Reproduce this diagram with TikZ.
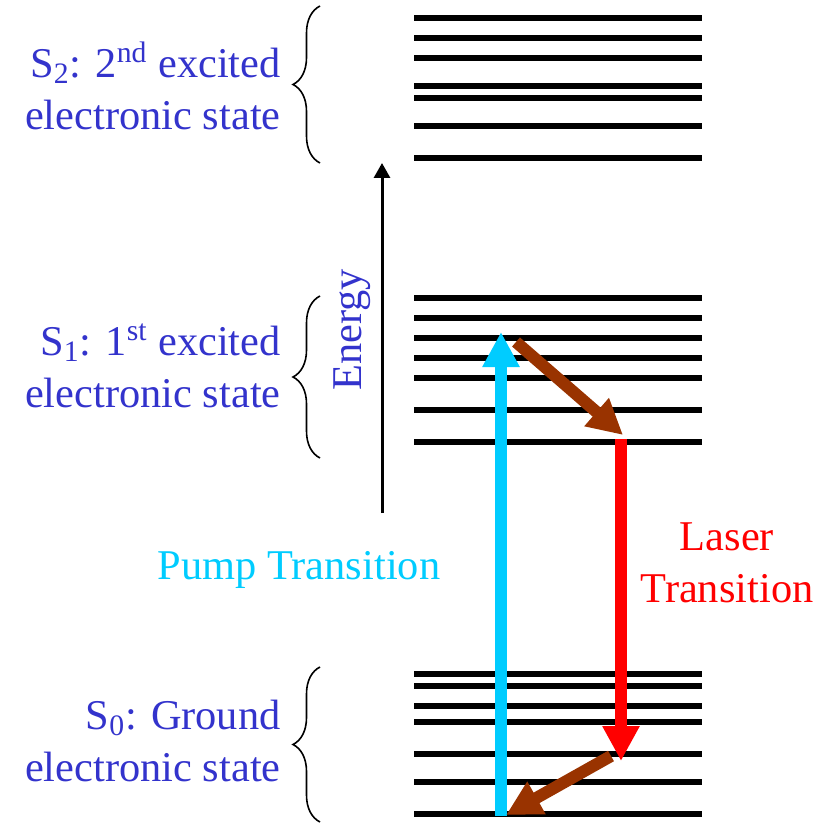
\documentclass[tikz,border=0pt]{standalone}
\usepackage{fontspec}
\setmainfont{Liberation Serif}
\usepackage{tikz}
\usetikzlibrary{positioning,arrows.meta,decorations.pathreplacing}
\usepackage{xcolor}
\definecolor{stateblue}{RGB}{51,51,204}
\definecolor{pumpcyan}{RGB}{0,204,255}
\definecolor{laserred}{RGB}{255,0,0}
\definecolor{relaxbrown}{RGB}{153,51,0}

\tikzset{
  elevel/.style={line width=2.7pt},
  bigtext/.style={font=\fontsize{21.2}{26}\selectfont,inner sep=0pt},
  statelabel/.style={bigtext,text=stateblue,align=right,anchor=east},
  statebrace/.style={decorate,decoration={brace,amplitude=13.5pt},line width=0.8pt},
  transarrow/.style={line width=6pt,-{Triangle[width=17.5pt,length=17.5pt]}},
}

\begin{document}
\begin{tikzpicture}[x=0.5pt,y=-0.5pt]
\useasboundingbox (0,0) rectangle (821,823);

% vibrational levels of S2, S1, S0
\foreach \y in {18,38,58,86,98,126,158}
  \draw[elevel] (414,\y) -- (702,\y);
\foreach \y in {298,318,338,358,378,410,442}
  \draw[elevel] (414,\y) -- (702,\y);
\foreach \y in {674,686,706,722,754,782,814}
  \draw[elevel] (414,\y) -- (702,\y);

% state labels and braces
\node[statelabel] (stwo) at (281,86) {S\textsubscript{2}: 2\textsuperscript{nd} excited~\\electronic state};
\node[statelabel] (sone) at (281,366) {S\textsubscript{1}: 1\textsuperscript{st} excited~\\electronic state};
\node[statelabel] (szero) at (281,741) {S\textsubscript{0}: Ground~\\electronic state};
\coordinate (stwolo) at (320,163);
\coordinate (stwohi) at (320,6);
\coordinate (sonelo) at (320,458);
\coordinate (sonehi) at (320,296);
\coordinate (szerolo) at (320,822);
\coordinate (szerohi) at (320,667);
\draw[statebrace] (stwolo) -- (stwohi);
\draw[statebrace] (sonelo) -- (sonehi);
\draw[statebrace] (szerolo) -- (szerohi);

% energy axis
\coordinate (ebottom) at (382,513);
\coordinate (etop) at (382,163);
\draw[line width=1.5pt,-{Triangle[width=8pt,length=7.5pt]}] (ebottom) -- (etop);
\node[bigtext,text=stateblue,rotate=90] (energy) at (352,330) {Energy};

% transitions
\coordinate (pumpfrom) at (501,816);
\coordinate (pumpto) at (501,332);
\coordinate (relaxafrom) at (516,342);
\coordinate (relaxato) at (623,435);
\coordinate (laserfrom) at (621,439);
\coordinate (laserto) at (621,761);
\coordinate (relaxbfrom) at (611,756);
\coordinate (relaxbto) at (506,815);
\draw[transarrow,pumpcyan] (pumpfrom) -- (pumpto);
\draw[transarrow,relaxbrown] (relaxafrom) -- (relaxato);
\draw[transarrow,laserred] (laserfrom) -- (laserto);
\draw[transarrow,relaxbrown] (relaxbfrom) -- (relaxbto);

\node[bigtext,text=pumpcyan] (pump) at (299,570) {Pump Transition};
\node[bigtext,text=laserred,align=center] (laser) at (727,563) {Laser\\Transition};
\end{tikzpicture}
\end{document}
